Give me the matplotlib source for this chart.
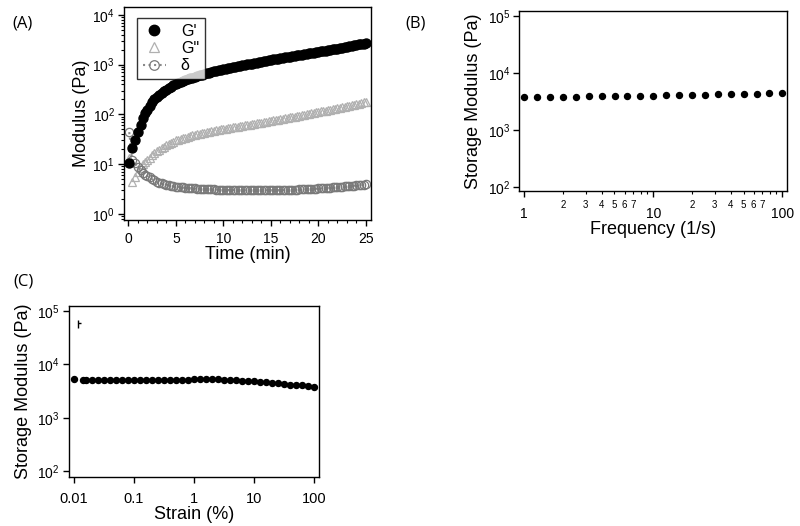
import matplotlib
matplotlib.use("Agg")
import matplotlib.pyplot as plt
import numpy as np

plt.rcParams['font.family'] = ['Liberation Sans', 'DejaVu Sans']
plt.rcParams['mathtext.fontset'] = 'custom'
plt.rcParams['mathtext.rm'] = 'Liberation Sans'
plt.rcParams['xtick.direction'] = 'out'
plt.rcParams['ytick.direction'] = 'out'

# (A) time sweep, one row per minute after t = 2
time_min = [0.1, 0.4, 0.7, 1.0, 1.3, 1.6, 1.8,
            2.0, 2.25, 2.5, 2.75, 3.0, 3.25, 3.5, 3.75, 4.0, 4.25, 4.5, 4.75,
            5.0, 5.25, 5.5, 5.75, 6.0, 6.25, 6.5, 6.75, 7.0, 7.25, 7.5, 7.75,
            8.0, 8.25, 8.5, 8.75, 9.0, 9.25, 9.5, 9.75, 10.0, 10.25, 10.5, 10.75,
            11.0, 11.25, 11.5, 11.75, 12.0, 12.25, 12.5, 12.75, 13.0, 13.25, 13.5, 13.75,
            14.0, 14.25, 14.5, 14.75, 15.0, 15.25, 15.5, 15.75, 16.0, 16.25, 16.5, 16.75,
            17.0, 17.25, 17.5, 17.75, 18.0, 18.25, 18.5, 18.75, 19.0, 19.25, 19.5, 19.75,
            20.0, 20.25, 20.5, 20.75, 21.0, 21.25, 21.5, 21.75, 22.0, 22.25, 22.5, 22.75,
            23.0, 23.25, 23.5, 23.75, 24.0, 24.25, 24.5, 24.75, 25.0]
g_storage = [10.7, 21, 30, 44, 62, 85, 105,
             125, 150, 175, 200, 225, 248, 270, 292, 315, 338, 360, 383,
             405, 428, 450, 470, 490, 510, 530, 550, 570, 590, 610, 630,
             650, 670, 690, 710, 730, 750, 770, 790, 810, 830, 850, 870,
             890, 910, 930, 950, 970, 990, 1010, 1030, 1050, 1075, 1100, 1125,
             1150, 1175, 1200, 1225, 1250, 1275, 1300, 1325, 1350, 1375, 1400, 1425,
             1450, 1475, 1500, 1530, 1560, 1590, 1620, 1650, 1680, 1710, 1740, 1775,
             1810, 1845, 1880, 1915, 1950, 1985, 2020, 2060, 2100, 2150, 2200, 2250,
             2300, 2350, 2400, 2450, 2500, 2550, 2600, 2650, 2700]
g_loss = [13, 4.3, 5.5, 7, 8.5, 10, 11,
          12, 13.5, 15, 16.5, 18, 19.5, 21, 22.5, 24, 25.5, 27, 28.5,
          30, 31, 32, 33, 34, 35.5, 37, 38, 39, 40, 41, 42,
          43, 44, 45, 46, 47, 48, 49, 50, 51, 52, 53, 54,
          55, 56, 57, 58, 59, 60, 61, 62, 63, 64.5, 66, 67,
          68, 69.5, 71, 72.5, 74, 75.5, 77, 78.5, 80, 81.5, 83, 85,
          87, 88.5, 90, 92, 94, 96, 98, 100, 102, 104.5, 107, 109.5,
          112, 114.5, 117, 119.5, 122, 125, 128, 131, 134, 137, 140, 143.5,
          147, 150.5, 154, 157.5, 161, 165, 169, 173.5, 178]
delta = [44, 12, 10.5, 8.8, 7.6, 6.7, 6.2,
         5.8, 5.4, 5.0, 4.7, 4.4, 4.25, 4.1, 4.0, 3.9, 3.8, 3.7, 3.62,
         3.55, 3.5, 3.45, 3.4, 3.35, 3.32, 3.3, 3.27, 3.25, 3.22, 3.2, 3.17,
         3.15, 3.13, 3.12, 3.11, 3.1, 3.09, 3.08, 3.06, 3.05, 3.05, 3.04, 3.03,
         3.03, 3.02, 3.02, 3.01, 3.01, 3.0, 3.0, 3.0, 3.0, 3.0, 3.0, 3.0,
         3.0, 3.0, 3.0, 3.0, 3.0, 3.0, 3.0, 3.0, 3.0, 3.01, 3.02, 3.03,
         3.05, 3.06, 3.08, 3.09, 3.1, 3.12, 3.13, 3.15, 3.17, 3.18, 3.2, 3.22,
         3.25, 3.27, 3.3, 3.32, 3.35, 3.37, 3.4, 3.42, 3.45, 3.48, 3.52, 3.56,
         3.6, 3.63, 3.67, 3.71, 3.75, 3.8, 3.85, 3.9, 3.95]

# (B) frequency sweep
freq = [1.0, 1.26, 1.58, 2.0, 2.51, 3.16, 3.98, 5.01, 6.31, 7.94, 10.0,
        12.6, 15.8, 20.0, 25.1, 31.6, 39.8, 50.1, 63.1, 79.4, 100.0]
g_freq = [3750, 3780, 3800, 3820, 3850, 3880, 3900, 3930, 3960, 3990, 4020,
          4050, 4080, 4110, 4150, 4190, 4230, 4280, 4330, 4390, 4480]

# (C) strain sweep
strain = [0.01, 0.0141, 0.0158, 0.02, 0.0251, 0.0316, 0.0398, 0.0501, 0.0631, 0.0794,
          0.1, 0.126, 0.158, 0.2, 0.251, 0.316, 0.398, 0.501, 0.631, 0.794,
          1.0, 1.26, 1.58, 2.0, 2.51, 3.16, 3.98, 5.01, 6.31, 7.94,
          10.0, 12.6, 15.8, 20.0, 25.1, 31.6, 39.8, 50.1, 63.1, 79.4, 100.0]
g_strain = [5300, 5100, 5150, 5150, 5150, 5050, 5150, 5150, 5150, 5150,
            5150, 5150, 5150, 5150, 5200, 5200, 5200, 5200, 5200, 5200,
            5250, 5250, 5250, 5250, 5250, 5200, 5100, 5050, 4950, 4900,
            4800, 4700, 4600, 4500, 4400, 4300, 4200, 4100, 4050, 4000, 3850]
err_x = [0.0118]
err_y = [5.9e4]
err_lo = [1.0e4]
err_hi = [1.0e4]


def style_axes(ax):
    for s in ax.spines.values():
        s.set_linewidth(1.0)
    ax.tick_params(which='major', length=4.5, width=1, labelsize=10)
    ax.tick_params(axis='x', which='both', pad=4)
    ax.tick_params(axis='y', which='both', pad=2)
    ax.tick_params(which='minor', length=2.5, width=0.8)
    ax.tick_params(top=False, right=False, which='both')


fig = plt.figure(figsize=(8, 5.26), dpi=100)

# ---- (A)
axA = fig.add_axes([0.155, 0.582, 0.309, 0.405])
axA.plot(time_min, g_storage, 'o', color='black', markersize=6.5, label="G'", zorder=3)
axA.plot(time_min, g_loss, '^', mfc='none', mec='#b0b0b0', mew=0.9, markersize=6,
         label='G"', zorder=2)
axA.plot(time_min, delta, 'o', ls=':', color='#8a8a8a', mfc='none', mec='#7a7a7a',
         mew=0.9, markersize=6, label=u'\u03b4', zorder=2)
axA.set_yscale('log')
axA.set_xlim(-0.45, 25.55)
axA.set_ylim(0.76, 14500)
axA.set_xticks([0, 5, 10, 15, 20, 25])
axA.set_xticks(np.arange(0, 26, 1), minor=True)
axA.set_ylabel('Modulus (Pa)', fontsize=13, labelpad=2)
axA.set_xlabel('Time (min)', fontsize=13, labelpad=0)
style_axes(axA)
leg = axA.legend(loc='upper left', bbox_to_anchor=(0.02, 0.985), frameon=True, fancybox=False,
                 edgecolor='black', fontsize=11.5, handlelength=1.5, borderpad=0.35,
                 labelspacing=0.15, handletextpad=0.9, markerscale=1.15)
leg.get_frame().set_linewidth(1.0)

# ---- (B)
axB = fig.add_axes([0.649, 0.637, 0.335, 0.342])
axB.plot(freq, g_freq, 'o', color='black', markersize=4.3)
axB.set_xscale('log')
axB.set_yscale('log')
axB.set_xlim(0.915, 109)
axB.set_ylim(85, 1.22e5)
axB.set_xticks([1, 10, 100])
axB.set_xticklabels(['1', '10', '100'])
minor_b = [2, 3, 4, 5, 6, 7, 8, 9, 20, 30, 40, 50, 60, 70, 80, 90]
axB.set_xticks(minor_b, minor=True)
axB.set_xticklabels(['2', '3', '4', '5', '6', '7', '', '', '2', '3', '4', '5', '6', '7', '', ''],
                    minor=True, fontsize=7)
axB.set_yticks([1e2, 1e3, 1e4, 1e5])
axB.yaxis.set_minor_locator(matplotlib.ticker.NullLocator())
axB.set_ylabel('Storage Modulus (Pa)', fontsize=13, labelpad=4)
axB.set_xlabel('Frequency (1/s)', fontsize=13, labelpad=0)
style_axes(axB)
axB.tick_params(axis='x', which='minor', labelsize=7, pad=4)
axB.tick_params(axis='x', which='major', pad=7)

# ---- (C)
axC = fig.add_axes([0.086, 0.093, 0.313, 0.325])
axC.plot(strain, g_strain, 'o', color='black', markersize=4.3)
axC.errorbar(err_x, err_y, yerr=[err_lo, err_hi], xerr=[[0.0], [0.0012]], fmt='none',
             ecolor='black', elinewidth=1.0, capsize=0)
axC.set_xscale('log')
axC.set_yscale('log')
axC.set_xlim(0.00826, 121)
axC.set_ylim(77, 1.24e5)
axC.set_xticks([0.01, 0.1, 1, 10, 100])
axC.set_xticklabels(['0.01', '0.1', '1', '10', '100'])
axC.xaxis.set_minor_locator(matplotlib.ticker.NullLocator())
axC.set_yticks([1e2, 1e3, 1e4, 1e5])
axC.yaxis.set_minor_locator(matplotlib.ticker.NullLocator())
axC.set_ylabel('Storage Modulus (Pa)', fontsize=13, labelpad=4)
axC.set_xlabel('Strain (%)', fontsize=13, labelpad=0)
style_axes(axC)
axC.tick_params(axis='x', which='major', labelsize=10.5, pad=6)

# panel letters
fig.text(0.015, 0.955, '(A)', fontsize=12, family='Open Sans', va='center')
fig.text(0.507, 0.955, '(B)', fontsize=12, family='Open Sans', va='center')
fig.text(0.017, 0.465, '(C)', fontsize=12, family='Open Sans', va='center')

fig.savefig('out.png', dpi=100)
